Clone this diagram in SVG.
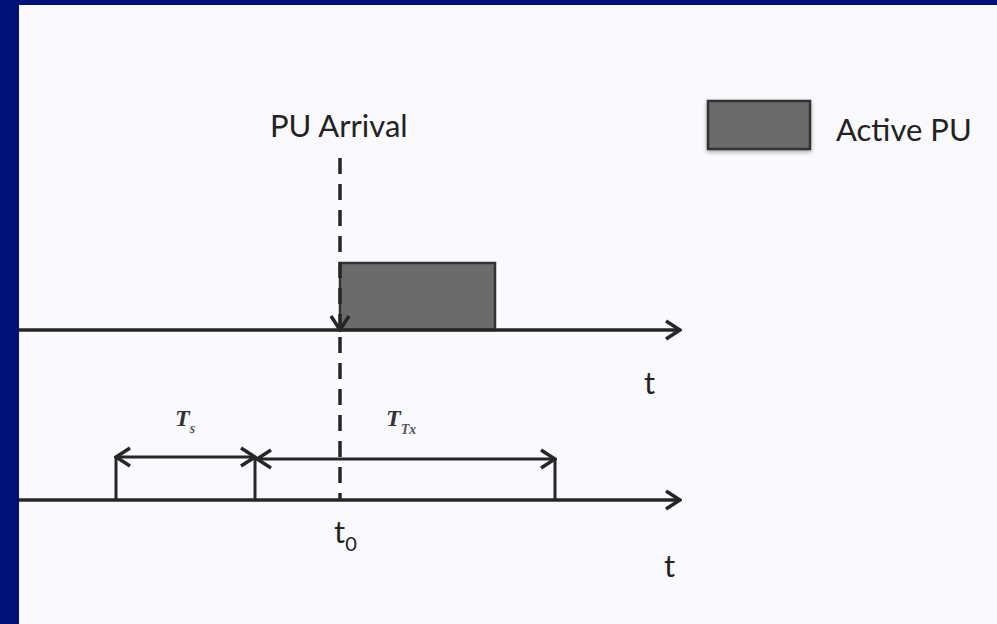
<svg xmlns="http://www.w3.org/2000/svg" width="997" height="624" viewBox="0 0 997 624">
  <style>
    .lbl { font-family: Lato, "Open Sans", "Liberation Sans", sans-serif; font-size: 31px; fill: #222; }
    .ital { font-family: "Liberation Serif", "DejaVu Serif", serif; font-style: italic; font-weight: bold; font-size: 24px; fill: #333; }
    .sub { font-size: 14px; fill: #555; }
    .axis { stroke: #262626; stroke-width: 3.5; fill: none; }
    .thin { stroke: #262626; stroke-width: 3; fill: none; }
    .dash { stroke: #262626; stroke-width: 3.5; fill: none; stroke-dasharray: 16 10; }
    .pu { fill: #6b6b6b; stroke: #333; stroke-width: 2.5; }
  </style>
  <defs>
    <marker id="head" viewBox="0 0 18 24" refX="16" refY="12" markerWidth="18" markerHeight="24" markerUnits="userSpaceOnUse" orient="auto-start-reverse">
      <path d="M2,3 L16,12 L2,21" fill="none" stroke="#262626" stroke-width="3.5" stroke-dasharray="none" stroke-linejoin="miter"/>
    </marker>
    <filter id="shadow" x="-20%" y="-20%" width="140%" height="150%">
      <feGaussianBlur in="SourceAlpha" stdDeviation="2"/>
      <feOffset dx="0" dy="2" result="b"/>
      <feComponentTransfer><feFuncA type="linear" slope="0.35"/></feComponentTransfer>
      <feMerge><feMergeNode/><feMergeNode in="SourceGraphic"/></feMerge>
    </filter>
  </defs>

  <rect x="0" y="0" width="997" height="624" fill="#FAFAFE"/>
  <rect x="0" y="0" width="997" height="5" fill="#00127A"/>
  <rect x="0" y="0" width="19" height="624" fill="#00127A"/>

  <g id="legend">
    <rect x="708" y="101" width="102" height="48" class="pu" filter="url(#shadow)"/>
    <text x="836" y="141" class="lbl">Active PU</text>
  </g>

  <g id="pu-block">
    <rect x="340" y="263" width="155" height="67" class="pu"/>
  </g>

  <g id="labels">
    <text x="270" y="137" class="lbl">PU Arrival</text>
    <text x="644" y="394" class="lbl">t</text>
    <text x="664" y="577" class="lbl">t</text>
    <text x="334" y="543" class="lbl">t<tspan style="font-size:20px" dy="8">0</tspan></text>
    <text x="175" y="426" class="ital">T<tspan class="sub" dx="0" dy="7">s</tspan></text>
    <text x="386" y="426" class="ital">T<tspan class="sub" dx="0" dy="8">Tx</tspan></text>
  </g>

  <g id="connectors">
    <line x1="19" y1="330" x2="680" y2="330" class="axis" marker-end="url(#head)"/>
    <line x1="19" y1="500" x2="680" y2="500" class="axis" marker-end="url(#head)"/>
    <line x1="340" y1="158" x2="340" y2="330" class="dash" marker-end="url(#head)"/>
    <line x1="340" y1="337" x2="340" y2="500" class="dash"/>
    <line x1="116" y1="457" x2="116" y2="500" class="thin"/>
    <line x1="255" y1="457" x2="255" y2="500" class="thin"/>
    <line x1="555" y1="459" x2="555" y2="500" class="thin"/>
    <line x1="116" y1="457" x2="255" y2="457" class="thin" marker-start="url(#head)" marker-end="url(#head)"/>
    <line x1="257" y1="459" x2="555" y2="459" class="thin" marker-start="url(#head)" marker-end="url(#head)"/>
  </g>
</svg>
